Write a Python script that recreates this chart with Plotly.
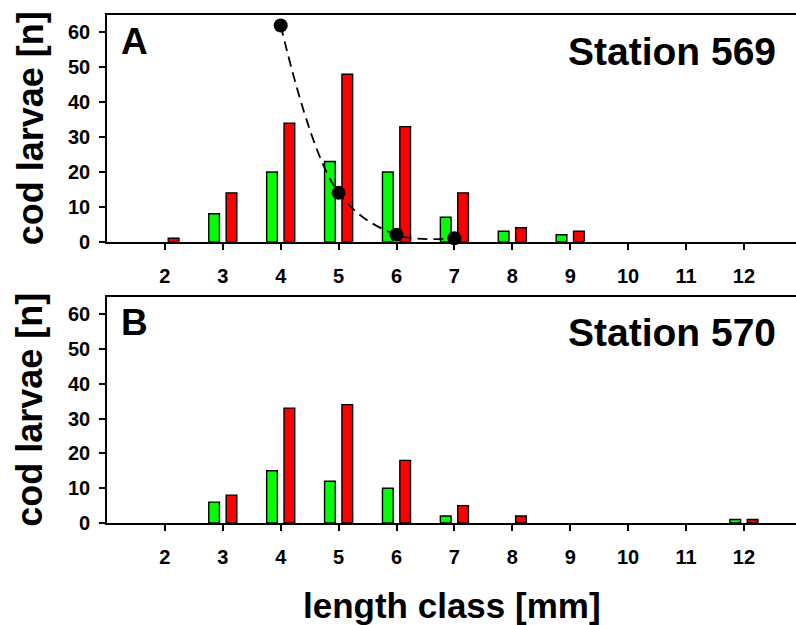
import plotly.graph_objects as go

length_classes = [2, 3, 4, 5, 6, 7, 8, 9, 10, 11, 12]
tick_labels = [str(v) for v in length_classes]

a_green = [0, 8, 20, 23, 20, 7, 3, 2, 0, 0, 0]
a_red = [1, 14, 34, 48, 33, 14, 4, 3, 0, 0, 0]
a_curve_x = [4, 5, 6, 7]
a_curve_y = [62, 14, 2, 1]

b_green = [0, 6, 15, 12, 10, 2, 0, 0, 0, 0, 1]
b_red = [0, 8, 33, 34, 18, 5, 2, 0, 0, 0, 1]

FONT = "Liberation Sans, Arial, sans-serif"
GREEN = "#00FF00"
RED = "#FF0000"
BAR_W = 0.185

fig = go.Figure()

def nz(vals):
    return [v if v else None for v in vals]

def add_bars(green, red, xa, ya):
    fig.add_trace(go.Bar(x=length_classes, y=nz(green), width=BAR_W, offset=-0.2425,
                         marker=dict(color=GREEN, line=dict(color="black", width=1.4)),
                         xaxis=xa, yaxis=ya, showlegend=False))
    fig.add_trace(go.Bar(x=length_classes, y=nz(red), width=BAR_W, offset=0.0575,
                         marker=dict(color=RED, line=dict(color="black", width=1.4)),
                         xaxis=xa, yaxis=ya, showlegend=False))

add_bars(a_green, a_red, "x", "y")
add_bars(b_green, b_red, "x2", "y2")

fig.add_trace(go.Scatter(x=a_curve_x, y=a_curve_y, mode="lines+markers",
                         line=dict(color="black", width=1.8, dash="10px,6px", shape="spline", smoothing=1.0),
                         marker=dict(color="black", size=14),
                         xaxis="x", yaxis="y", showlegend=False, cliponaxis=False))

W, H = 796, 625
ml, mr, mt, mb = 107, 0, 15, 102
ph = H - mt - mb
dom_a = [(H - mb - 241.7) / ph, 1.0]
dom_b = [0.0, (H - mb - 296.7) / ph]

xcommon = dict(range=[1.0, 1.0 + 689 / 57.9], tickvals=length_classes, ticktext=tick_labels,
               ticks="outside", ticklen=6, tickwidth=1.5, tickcolor="black",
               showline=True, linecolor="black", linewidth=1.6, mirror=True,
               showgrid=False, zeroline=False, ticklabelstandoff=9,
               tickfont=dict(family=FONT, size=20, color="black", weight="bold"))
ycommon = dict(range=[0, 65], tickvals=[0, 10, 20, 30, 40, 50, 60],
               ticks="outside", ticklen=6, tickwidth=1.5, tickcolor="black",
               showline=True, linecolor="black", linewidth=1.6, mirror=False,
               showgrid=False, zeroline=False, ticklabelstandoff=5,
               tickfont=dict(family=FONT, size=20, color="black", weight="bold"))

fig.update_layout(
    width=W, height=H, margin=dict(l=ml, r=mr, t=mt, b=mb),
    paper_bgcolor="white", plot_bgcolor="white", barmode="overlay",
    xaxis=dict(**xcommon, domain=[0, 1], anchor="y"),
    yaxis=dict(**ycommon, domain=dom_a, anchor="x"),
    xaxis2=dict(**xcommon, domain=[0, 1], anchor="y2"),
    yaxis2=dict(**ycommon, domain=dom_b, anchor="x2"),
)

letter_font = dict(family=FONT, size=37, color="black", weight="bold")
station_font = dict(family=FONT, size=39, color="black", weight="bold")
title_font = dict(family=FONT, size=35, color="black", weight="bold")

ann = []
for xr, yr, letter, station in [("x domain", "y domain", "A", "Station 569"),
                                ("x2 domain", "y2 domain", "B", "Station 570")]:
    ann.append(dict(xref=xr, yref=yr, x=0.017, y=0.885, text=letter, showarrow=False,
                    xanchor="left", yanchor="middle", font=letter_font))
    ann.append(dict(xref=xr, yref=yr, x=0.974, y=0.84, text=station, showarrow=False,
                    xanchor="right", yanchor="middle", font=station_font))
    ann.append(dict(xref="paper", yref=yr, x=0, xshift=-77, y=0.5, text="cod larvae [n]",
                    textangle=-90, showarrow=False, xanchor="center", yanchor="middle",
                    font=dict(title_font, size=36)))
ann.append(dict(xref="paper", yref="paper", x=0.5, y=(H - mb - 605) / ph, text="length class [mm]",
                showarrow=False, xanchor="center", yanchor="middle", font=title_font))
fig.update_layout(annotations=ann)

fig.write_html("out.html")
